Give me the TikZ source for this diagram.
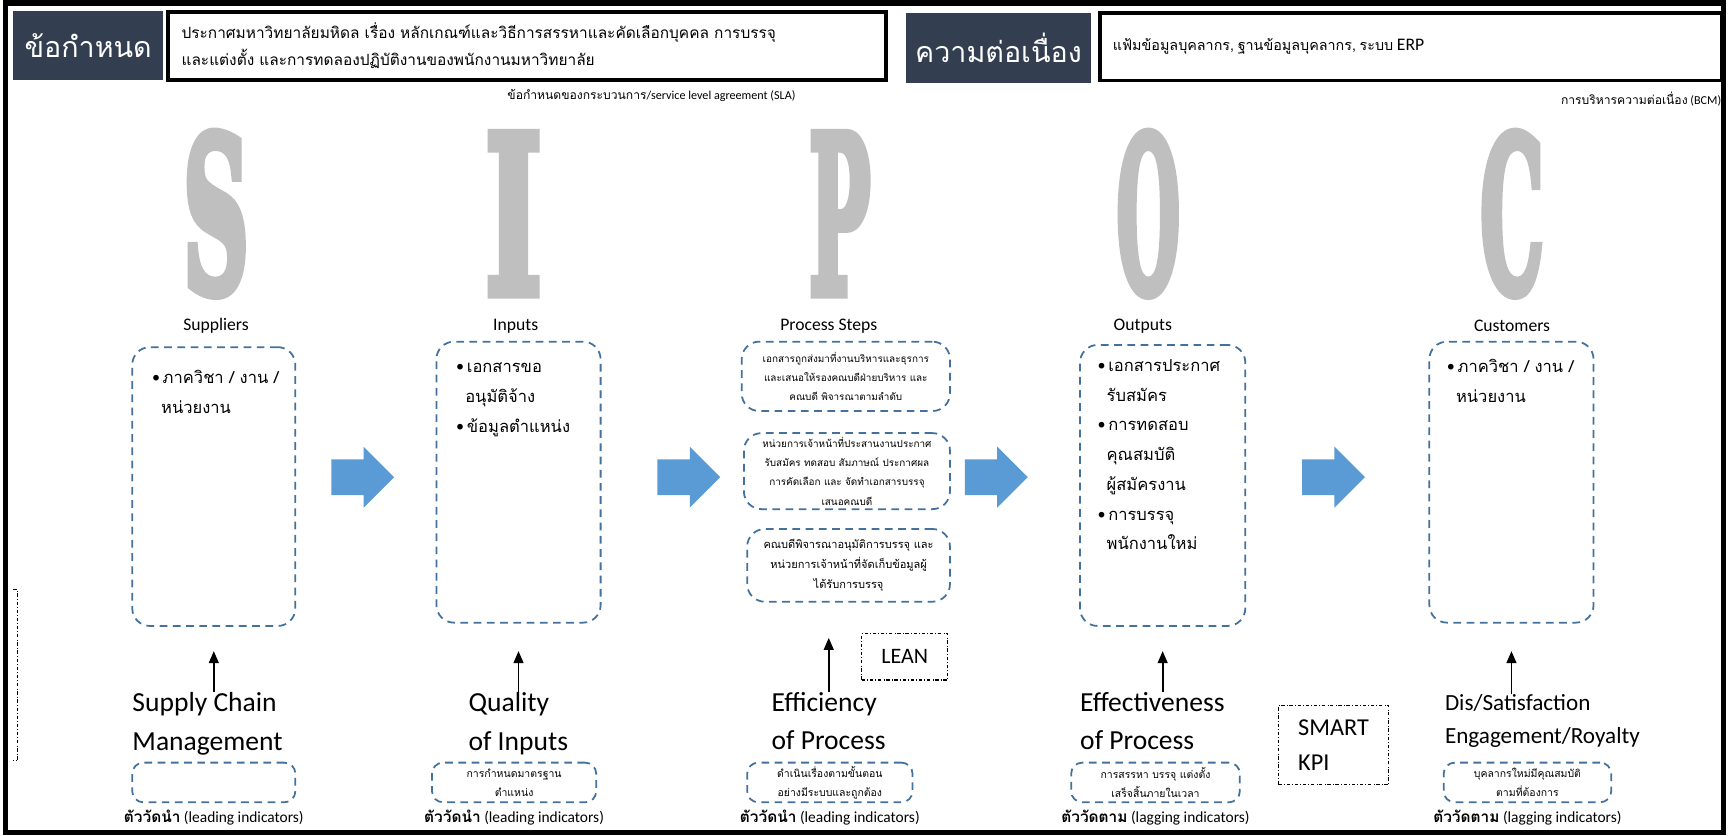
\documentclass[tikz,border=0pt]{standalone}
\usepackage{fontspec}
\usepackage{graphicx}
\setmainfont{Carlito}
\newfontfamily\thai[Script=Thai]{Loma}
\newfontfamily\bigserif[FakeBold=5]{DejaVu Serif}
\usetikzlibrary{positioning,arrows.meta,shapes.arrows}

\definecolor{hdrgray}{HTML}{333F50}
\definecolor{dashblue}{HTML}{41719C}
\definecolor{flowblue}{HTML}{5B9BD5}
\definecolor{lettergray}{HTML}{BFBFBF}

\newcommand{\bul}{\textbullet\,}
\newcommand{\tht}[1]{{\thai #1}}

\begin{document}
\begin{tikzpicture}[x = 1pt, y = -1pt,
    hdr/.style = {fill = hdrgray, text = white, inner sep = 0pt, font = \thai\fontsize{26}{30}\selectfont},
    infobox/.style = {draw, line width = 3.5pt, inner xsep = 12pt, align = left},
    dbox/.style = {draw = dashblue, line width = 1.6pt, dash pattern = on 7pt off 5pt, rounded corners = 16pt},
    flow/.style = {single arrow, fill = flowblue, minimum width = 55pt, minimum height = 57pt,
                   single arrow head extend = 11.5pt, inner sep = 0pt},
    uparrow/.style = {-{Triangle[length = 11pt, width = 9pt]}, line width = 1.6pt},
    ddbox/.style = {draw, dash dot, line width = 1.1pt},
    letter/.style = {text = lettergray, inner sep = 0pt},
    colname/.style = {inner sep = 1pt, font = \fontsize{16}{18}\selectfont},
    bigname/.style = {align = left, anchor = north west, inner sep = 0pt, font = \fontsize{25}{35}\selectfont},
    boxtext/.style = {align = left, anchor = north west, inner sep = 0pt, font = \thai\fontsize{15}{27}\selectfont},
    steptext/.style = {align = center, inner sep = 0pt, font = \thai\fontsize{9}{17.5}\selectfont},
    indtext/.style = {align = center, inner sep = 0pt, font = \thai\fontsize{9.5}{17}\selectfont},
    indlabel/.style = {inner sep = 0pt, font = \fontsize{14}{16}\selectfont}]
    \useasboundingbox (0, 0) rectangle (1568, 758);
    \draw [line width = 5pt] (5, 2.5) rectangle (1564, 755.5);

    % header
    \node [hdr, minimum width = 136pt, minimum height = 63pt] (spec) at (80, 41.5) {ข้อกำหนด};
    \node [infobox, anchor = west, text width = 627pt, minimum height = 62pt,
           font = \thai\fontsize{14}{25}\selectfont] (specbox) at (151, 41.5)
          {ประกาศมหาวิทยาลัยมหิดล เรื่อง หลักเกณฑ์และวิธีการสรรหาและคัดเลือกบุคคล การบรรจุ\\
           และแต่งตั้ง และการทดลองปฏิบัติงานของพนักงานมหาวิทยาลัย};
    \node [anchor = east, inner sep = 0pt, font = \fontsize{11}{13}\selectfont] (sla) at (722, 87)
          {\tht{ข้อกำหนดของกระบวนการ}/service level agreement (SLA)};
    \node [hdr, minimum width = 168pt, minimum height = 63pt] (cont) at (906, 43.5) {ความต่อเนื่อง};
    \node [infobox, anchor = west, text width = 541pt, minimum height = 61pt] (contbox) at (996, 42.5)
          {\tht{\fontsize{13}{15}\selectfont แฟ้มข้อมูลบุคลากร, ฐานข้อมูลบุคลากร, ระบบ} {\fontsize{16}{18}\selectfont ERP}};
    \node [anchor = east, inner sep = 0pt, font = \fontsize{11}{13}\selectfont] (bcm) at (1562, 90)
          {\tht{การบริหารความต่อเนื่อง} (BCM)};

    % SIPOC letters
    \node [letter] (S) at (196, 194) {\resizebox{60pt}{144pt}{\bigserif\bfseries S}};
    \node [letter] (I) at (466, 194) {\resizebox{52pt}{144pt}{\bigserif\bfseries I}};
    \node [letter] (P) at (762, 194) {\resizebox{56pt}{144pt}{\bigserif\bfseries P}};
    \node [letter] (O) at (1042, 194) {\resizebox{58pt}{144pt}{\bigserif\bfseries O}};
    \node [letter] (C) at (1372, 194) {\resizebox{58pt}{144pt}{\bigserif\bfseries C}};

    \node [colname] (sup) at (196, 296) {Suppliers};
    \node [colname] (inp) at (468, 296) {Inputs};
    \node [colname] (pst) at (752, 296) {Process Steps};
    \node [colname] (outp) at (1037, 296) {Outputs};
    \node [colname] (cus) at (1372, 296) {Customers};

    % main boxes
    \node [dbox, minimum width = 148pt, minimum height = 253pt] (supbox) at (194, 441.5) {};
    \node [dbox, minimum width = 149pt, minimum height = 255pt] (inbox) at (470.5, 437.5) {};
    \node [dbox, minimum width = 189pt, minimum height = 63pt] (proc1) at (767.5, 341.5) {};
    \node [dbox, minimum width = 187pt, minimum height = 69pt] (proc2) at (768.5, 427.5) {};
    \node [dbox, minimum width = 184pt, minimum height = 66pt] (proc3) at (770, 513) {};
    \node [dbox, minimum width = 150pt, minimum height = 255pt] (outbox) at (1055, 440.5) {};
    \node [dbox, minimum width = 149pt, minimum height = 255pt] (cusbox) at (1371.5, 437.5) {};

    \node [boxtext] at (138, 336) {\bul\tht{ภาควิชา / งาน /}\\\hspace{8pt}\tht{หน่วยงาน}};
    \node [boxtext] at (414, 329) {\bul\tht{เอกสารขอ}\\\hspace{8pt}\tht{อนุมัติจ้าง}\\\bul\tht{ข้อมูลตำแหน่ง}};
    \node [steptext] at (proc1) {เอกสารถูกส่งมาที่งานบริหารและธุรการ\\และเสนอให้รองคณบดีฝ่ายบริหาร และ\\คณบดี พิจารณาตามลำดับ};
    \node [steptext] at (proc2) {หน่วยการเจ้าหน้าที่ประสานงานประกาศ\\รับสมัคร ทดสอบ สัมภาษณ์ ประกาศผล\\การคัดเลือก และ จัดทำเอกสารบรรจุ\\เสนอคณบดี};
    \node [steptext, font = \thai\fontsize{10}{18.5}\selectfont] at (proc3) {คณบดีพิจารณาอนุมัติการบรรจุ และ\\หน่วยการเจ้าหน้าที่จัดเก็บข้อมูลผู้\\ได้รับการบรรจุ};
    \node [boxtext] at (996, 326) {\bul\tht{เอกสารประกาศ}\\\hspace{8pt}\tht{รับสมัคร}\\\bul\tht{การทดสอบ}\\\hspace{8pt}\tht{คุณสมบัติ}\\\hspace{8pt}\tht{ผู้สมัครงาน}\\\bul\tht{การบรรจุ}\\\hspace{8pt}\tht{พนักงานใหม่}};
    \node [boxtext] at (1313, 326) {\bul\tht{ภาควิชา / งาน /}\\\hspace{8pt}\tht{หน่วยงาน}};

    % flow arrows
    \node [flow] (f1) at (321, 433) {\rule{0pt}{32pt}};
    \node [flow] (f2) at (617, 433) {\rule{0pt}{32pt}};
    \node [flow] (f3) at (896, 433) {\rule{0pt}{32pt}};
    \node [flow] (f4) at (1202, 433) {\rule{0pt}{32pt}};

    % measures
    \node [bigname] (scm) at (120, 628) {Supply Chain\\Management};
    \node [bigname] (qual) at (425, 628) {Quality\\of Inputs};
    \node [bigname] (eff) at (700, 628) {Efficiency\\of Process};
    \node [bigname] (effc) at (980, 628) {Effectiveness\\of Process};
    \node [bigname, font = \fontsize{21}{30}\selectfont] (dis) at (1311, 630) {Dis/Satisfaction\\Engagement/Royalty};

    \draw [uparrow, shorten > = 22pt] (supbox.south |- scm.north) -- (supbox.south);
    \draw [uparrow, shorten > = 25pt] (inbox.south |- qual.north) -- (inbox.south);
    \draw [uparrow, shorten > = 32pt] (pst |- eff.north) -- (pst |- proc3.south);
    \draw [uparrow, shorten > = 22pt] (outbox.south |- effc.north) -- (outbox.south);
    \draw [uparrow, shorten > = 25pt] (cusbox.south |- dis.north) -- (cusbox.south);

    \node [ddbox, minimum width = 78pt, minimum height = 42pt, font = \fontsize{20}{22}\selectfont] (lean) at (821, 596) {LEAN};
    \node [ddbox, minimum width = 100pt, minimum height = 72pt, align = left, inner xsep = 14pt,
           font = \fontsize{22}{32}\selectfont] (kpi) at (1210, 676) {SMART\\KPI\hspace{30pt}};

    % indicator boxes
    \node [dbox, rounded corners = 10pt, minimum width = 148pt, minimum height = 36pt] (supind) at (194, 710) {};
    \node [dbox, rounded corners = 10pt, minimum width = 149pt, minimum height = 36pt] (inind) at (466.5, 710) {};
    \node [dbox, rounded corners = 10pt, minimum width = 150pt, minimum height = 36pt] (procind) at (753, 710) {};
    \node [dbox, rounded corners = 10pt, minimum width = 153pt, minimum height = 36pt] (outind) at (1048.5, 710) {};
    \node [dbox, rounded corners = 10pt, minimum width = 152pt, minimum height = 36pt] (cusind) at (1386, 710) {};

    \node [indtext] at (inind) {การกำหนดมาตรฐาน\\ตำแหน่ง};
    \node [indtext] at (procind) {ดำเนินเรื่องตามขั้นตอน\\อย่างมีระบบและถูกต้อง};
    \node [indtext] at (outind) {การสรรหา บรรจุ แต่งตั้ง\\เสร็จสิ้นภายในเวลา};
    \node [indtext] at (cusind) {บุคลากรใหม่มีคุณสมบัติ\\ตามที่ต้องการ};

    \node [indlabel, below = 6pt of supind] {\tht{\bfseries ตัววัดนำ} (leading indicators)};
    \node [indlabel, below = 6pt of inind] {\tht{\bfseries ตัววัดนำ} (leading indicators)};
    \node [indlabel, below = 6pt of procind] {\tht{\bfseries ตัววัดนำ} (leading indicators)};
    \node [indlabel, below = 6pt of outind] {\tht{\bfseries ตัววัดตาม} (lagging indicators)};
    \node [indlabel, below = 6pt of cusind] {\tht{\bfseries ตัววัดตาม} (lagging indicators)};

    \draw [dash dot, line width = 1pt] (12, 535) -- (16, 535) -- (16, 690) -- (12, 690);
\end{tikzpicture}
\end{document}
